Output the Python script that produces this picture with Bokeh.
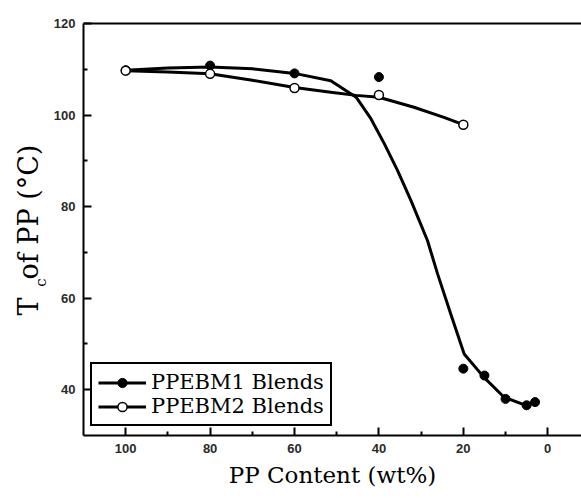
import math
from bokeh.plotting import figure
from bokeh.layouts import row
from bokeh.models import Range1d, FixedTicker, LinearAxis, Legend, LegendItem
from bokeh.core.properties import value
from bokeh.embed import file_html
from bokeh.resources import INLINE

# --- data ---
pp_content1 = [100, 80, 60, 40, 20, 15, 10, 5, 3]
tc_ppebm1 = [109.8, 110.8, 109.1, 108.3, 44.6, 43.1, 38.0, 36.6, 37.3]

pp_content2 = [100, 80, 60, 40, 20]
tc_ppebm2 = [109.7, 109.0, 105.9, 104.4, 97.9]

# fitted curves
fit1_x = [100, 90, 80, 70, 60, 51.4, 45.4, 41.9, 38.7, 35.6, 32.4, 28.5, 26.1, 23.0, 19.8, 15.1, 10.4, 5.2, 3.3]
fit1_y = [109.8, 110.3, 110.5, 110.1, 109.1, 107.5, 103.9, 99.2, 93.7, 87.9, 81.3, 72.6, 65.3, 56.6, 47.8, 42.7, 38.4, 36.6, 37.1]

fit2_x = [100, 90, 80, 70, 60, 51.4, 45.4, 40, 31.7, 24.6, 20]
fit2_y = [109.7, 109.4, 109.0, 107.6, 106.0, 105.0, 104.3, 103.9, 101.7, 99.5, 97.9]

x_ticks = [100, 80, 60, 40, 20, 0]
x_minor = [90, 70, 50, 30, 10]
y_ticks = [40, 60, 80, 100, 120]
y_minor = [50, 70, 90, 110]

series1_label = "PPEBM1 Blends"
series2_label = "PPEBM2 Blends"
x_label = "PP Content (wt%)"
y_label_parts = ["T", "c", "of PP (°C)"]

serif = "DejaVu Serif"
LABEL_W = 50
H = 498

# ---- narrow panel carrying the rotated y-axis title (T with subscript c) ----
lab = figure(width=LABEL_W, height=H, x_range=Range1d(0, LABEL_W), y_range=Range1d(0, H),
             output_backend="svg", toolbar_location=None, x_axis_type=None, y_axis_type=None,
             min_border=0)
lab.outline_line_color = None
lab.grid.visible = False
ang = math.pi / 2
common = dict(angle=ang, text_font=value(serif), text_align="center", text_baseline="middle",
              text_color="black")
lab.text(x=[28], y=[156], text=[y_label_parts[0]], text_font_size=value("27px"), **common)
lab.text(x=[40], y=[185], text=[y_label_parts[1]], text_font_size=value("15px"), **common)
lab.text(x=[28], y=[270], text=[y_label_parts[2]], text_font_size=value("27px"), **common)

# ---- main plot ----
p = figure(width=581 - LABEL_W, height=H, x_range=Range1d(110, -8), y_range=Range1d(30, 120),
           output_backend="svg", toolbar_location=None,
           min_border_left=82 - LABEL_W, min_border_right=0, min_border_top=23, min_border_bottom=63)
p.outline_line_color = None
p.grid.visible = False

for ax in (p.xaxis[0], p.yaxis[0]):
    ax.axis_line_width = 2
    ax.axis_line_color = "black"
    ax.major_tick_in = 8
    ax.major_tick_out = 0
    ax.minor_tick_in = 4
    ax.minor_tick_out = 0
    ax.major_tick_line_width = 2
    ax.minor_tick_line_width = 2
    ax.major_label_text_font = "Liberation Sans"
    ax.major_label_text_font_size = "13px"
    ax.major_label_text_font_style = "bold"
    ax.major_label_text_color = "#2a2a2a"
    ax.major_label_standoff = 8

p.xaxis.ticker = FixedTicker(ticks=x_ticks, minor_ticks=x_minor)
p.yaxis.ticker = FixedTicker(ticks=y_ticks, minor_ticks=y_minor)
p.xaxis.axis_label = x_label
p.xaxis.axis_label_text_font = serif
p.xaxis.axis_label_text_font_size = "23px"
p.xaxis.axis_label_text_font_style = "normal"
p.xaxis.axis_label_text_color = "black"
p.xaxis.axis_label_standoff = 6

top = LinearAxis(ticker=FixedTicker(ticks=[]), axis_line_width=2, axis_line_color="black",
                 major_tick_line_color=None, minor_tick_line_color=None,
                 major_label_text_font_size="0px")
p.add_layout(top, "above")

r1 = p.line(fit1_x, fit1_y, line_width=3, color="black")
s1 = p.scatter(pp_content1, tc_ppebm1, size=9, fill_color="black", line_color="black")
r2 = p.line(fit2_x, fit2_y, line_width=3, color="black")
s2 = p.scatter(pp_content2, tc_ppebm2, size=9, fill_color="white", line_color="black", line_width=1.5)

legend = Legend(items=[LegendItem(label=series1_label, renderers=[r1, s1]),
                       LegendItem(label=series2_label, renderers=[r2, s2])],
                location=(7, 9), orientation="vertical",
                border_line_color="black", border_line_width=2, border_line_alpha=1,
                background_fill_color="white", background_fill_alpha=1,
                padding=6, spacing=0, margin=0,
                label_height=23, glyph_height=23, glyph_width=48, label_standoff=5,
                label_text_font=serif, label_text_font_size="21px", label_text_color="black")
p.add_layout(legend, "center")

layout = row(lab, p)
open("out.html", "w").write(file_html(layout, INLINE))
